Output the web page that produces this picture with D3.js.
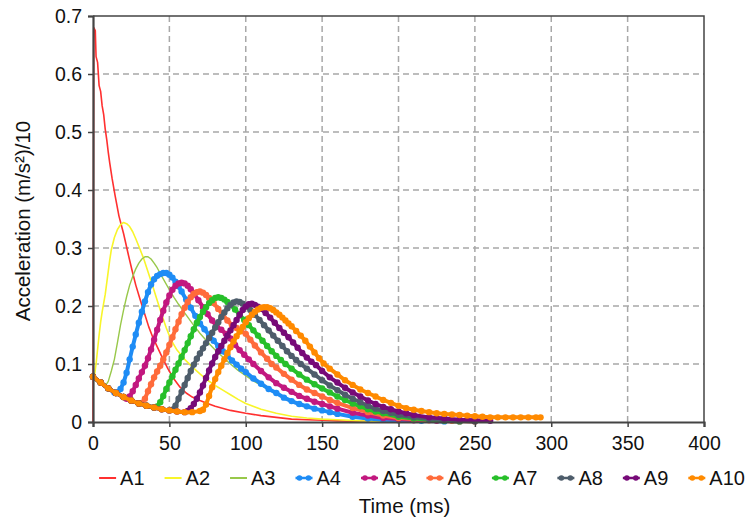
<!DOCTYPE html>
<html>
<head>
<meta charset="utf-8">
<script src="https://cdn.jsdelivr.net/npm/d3@7"></script>
<style>
  body { margin: 0; background: #fff; }
  text { font-family: "Liberation Sans", Arial, sans-serif; fill: #111; }
</style>
</head>
<body>
<div id="wrapper"></div>
<script>
// 1. Data (time in ms, acceleration (m/s²)/10)

const seriesNames = ["A1", "A2", "A3", "A4", "A5", "A6", "A7", "A8", "A9", "A10"];
const seriesColors = ["#ff3030", "#f8f52a", "#98c84a", "#1e8cf5", "#c2187f", "#ff6b3b",
  "#27bf2a", "#4e5d6b", "#770a78", "#ff8a00"];
const hasMarkers = [false, false, false, true, true, true, true, true, true, true];

const a1 = [[0,0],[0.5,.68],[1.5,.675],[2,.63],[3,.62],[4,.58],[5,.57],[6,.545],[7,.53],[8,.505],
  [9,.487],[10,.465],[11,.446],[12.5,.42],[14.5,.39],[17,.355],[20,.325],[23,.29],[25.5,.262],
  [28,.236],[31,.21],[34,.185],[36.5,.164],[39,.147],[42,.13],[45,.113],[49,.092],[53,.074],
  [57,.06],[61,.05],[65,.043],[70,.037],[75,.032],[80,.027],[90,.02],[100,.015],[110,.011],
  [120,.008],[130,.005],[140,.004],[150,.003],[160,.002],[180,.001],[200,0]];

const a2 = [[0,.075],[1,.08],[2,.1],[3,.125],[4,.15],[5,.172],[6,.19],[7,.205],[8,.22],[9,.24],
  [10,.26],[11,.28],[12,.297],[14,.318],[16,.332],[18,.34],[20,.344],[22,.342],[24,.337],
  [26,.328],[28,.316],[30,.303],[33,.283],[36,.259],[39,.235],[42,.21],[45,.185],[48,.162],
  [51,.142],[55,.124],[60,.108],[65,.095],[70,.083],[75,.072],[80,.063],[85,.055],[90,.047],
  [95,.039],[100,.032],[110,.022],[120,.015],[130,.01],[140,.007],[150,.005],[160,.004],
  [175,.002],[190,.001],[200,0]];

const a3 = [[0,.075],[3,.068],[6,.063],[8,.062],[10,.07],[12,.088],[14,.108],[16,.137],[18,.167],
  [20,.193],[22,.216],[24,.236],[26,.251],[28,.264],[30,.274],[32,.281],[34,.285],[36,.285],
  [38,.281],[40,.274],[42,.266],[44,.256],[47,.242],[50,.228],[53,.215],[56,.203],[60,.188],
  [65,.17],[70,.153],[75,.138],[80,.124],[85,.112],[90,.1],[95,.089],[100,.08],[105,.071],
  [110,.063],[115,.056],[120,.049],[125,.043],[130,.037],[140,.027],[150,.019],[160,.013],
  [170,.009],[180,.006],[190,.004],[200,.003],[210,.002],[220,0]];

const a4 = [[0,.078],[5,.068],[10,.058],[14,.051],[16,.051],[18,.057],[20,.068],[22,.085],
  [24,.108],[26,.13],[28,.151],[30,.171],[32,.19],[34,.208],[36,.224],[38,.237],[40,.246],
  [42,.252],[44,.255],[46,.257],[48,.257],[50,.254],[52,.249],[54,.242],[56,.234],[58,.225],
  [61,.211],[64,.197],[67,.183],[70,.17],[73,.16],[76,.15],[79,.14],[82,.131],[85,.122],
  [88,.114],[91,.106],[94,.099],[97,.092],[100,.086],[105,.075],[110,.066],[115,.057],
  [120,.05],[125,.042],[130,.036],[135,.031],[140,.027],[145,.023],[150,.02],[155,.017],
  [160,.014],[170,.009],[180,.006],[190,.004],[200,.003],[215,.002],[230,.001]];

const a5 = [[0,.078],[5,.068],[10,.058],[15,.05],[20,.043],[22,.04],[24,.044],[26,.053],
  [28,.064],[30,.075],[32,.086],[34,.097],[36,.11],[38,.125],[40,.142],[42,.159],[44,.176],
  [46,.192],[48,.206],[50,.218],[52,.228],[54,.235],[56,.239],[58,.24],[60,.239],[62,.235],
  [64,.229],[66,.222],[69,.21],[72,.198],[75,.186],[78,.175],[81,.165],[84,.159],[87,.152],
  [90,.144],[93,.133],[96,.124],[99,.116],[102,.108],[105,.1],[110,.088],[115,.077],
  [120,.067],[125,.059],[130,.052],[135,.045],[140,.04],[145,.035],[150,.031],[155,.027],
  [160,.023],[170,.016],[180,.011],[190,.007],[200,.005],[210,.003],[225,.002],[240,.001]];

const a6 = [[0,.078],[5,.068],[10,.058],[15,.05],[20,.043],[25,.037],[30,.032],[32,.033],
  [34,.04],[36,.053],[38,.065],[40,.077],[42,.087],[44,.097],[46,.108],[48,.12],[50,.133],
  [52,.146],[54,.16],[56,.173],[58,.186],[60,.197],[62,.207],[64,.215],[66,.221],[68,.224],
  [70,.225],[72,.223],[74,.219],[76,.214],[79,.205],[82,.195],[85,.185],[88,.175],[91,.167],
  [94,.162],[97,.157],[100,.152],[103,.142],[106,.132],[110,.12],[114,.109],[117,.1],
  [120,.094],[125,.083],[130,.073],[135,.064],[140,.056],[145,.05],[150,.044],[155,.038],
  [160,.033],[170,.024],[180,.017],[190,.011],[200,.007],[210,.005],[220,.003],[235,.002],
  [250,.001]];

const a7 = [[0,.078],[5,.068],[10,.058],[15,.05],[20,.043],[25,.037],[30,.032],[35,.028],
  [40,.025],[42,.027],[44,.034],[46,.045],[48,.057],[50,.068],[52,.079],[54,.09],[56,.101],
  [58,.112],[60,.124],[62,.136],[64,.148],[66,.16],[68,.171],[70,.181],[72,.19],[74,.198],
  [76,.205],[78,.21],[80,.214],[82,.215],[84,.214],[86,.211],[88,.207],[90,.202],[93,.194],
  [96,.185],[99,.176],[102,.167],[105,.158],[108,.149],[111,.14],[114,.131],[117,.122],
  [120,.114],[123,.107],[126,.1],[130,.092],[135,.082],[140,.073],[145,.065],[150,.058],
  [155,.051],[160,.044],[165,.038],[170,.032],[175,.027],[180,.022],[185,.018],[190,.015],
  [200,.009],[210,.006],[220,.004],[230,.002],[240,.001]];

const a8 = [[0,.078],[5,.068],[10,.058],[15,.05],[20,.043],[25,.037],[30,.032],[35,.028],
  [40,.025],[45,.022],[50,.02],[52,.021],[54,.028],[56,.04],[58,.052],[60,.064],[62,.076],
  [64,.088],[66,.099],[68,.109],[70,.118],[72,.127],[74,.136],[76,.145],[78,.154],[80,.163],
  [82,.172],[84,.181],[86,.189],[88,.196],[90,.202],[92,.206],[94,.208],[96,.207],[98,.204],
  [100,.2],[103,.193],[106,.185],[109,.176],[112,.167],[115,.158],[118,.149],[121,.14],
  [124,.131],[127,.122],[130,.114],[133,.107],[136,.1],[140,.092],[145,.082],[150,.072],
  [155,.063],[160,.055],[165,.047],[170,.04],[175,.034],[180,.028],[185,.023],[190,.019],
  [195,.016],[200,.012],[210,.008],[220,.005],[230,.003],[240,.002],[250,.001]];

const a9 = [[0,.078],[5,.068],[10,.058],[15,.05],[20,.043],[25,.037],[30,.032],[35,.028],
  [40,.025],[45,.022],[50,.02],[55,.018],[60,.017],[62,.019],[64,.024],[66,.031],[68,.04],
  [70,.051],[72,.063],[74,.076],[76,.089],[78,.101],[80,.112],[82,.122],[84,.131],[86,.14],
  [88,.149],[90,.158],[92,.167],[94,.176],[96,.185],[98,.193],[100,.199],[102,.203],
  [104,.204],[106,.202],[108,.199],[110,.195],[113,.188],[116,.18],[119,.171],[122,.162],
  [125,.154],[128,.146],[131,.137],[134,.128],[137,.119],[140,.111],[143,.104],[146,.098],
  [150,.088],[155,.077],[160,.068],[165,.059],[170,.051],[175,.044],[180,.037],[185,.031],
  [190,.026],[195,.022],[200,.018],[205,.015],[210,.012],[220,.008],[230,.006],[240,.004],
  [250,.003],[260,.002]];

const a10 = [[0,.078],[5,.068],[10,.058],[15,.05],[20,.043],[25,.037],[30,.032],[35,.028],
  [40,.025],[45,.022],[50,.02],[55,.018],[60,.017],[65,.017],[70,.019],[72,.021],[74,.03],
  [76,.045],[78,.06],[80,.074],[82,.086],[84,.097],[86,.108],[88,.119],[90,.129],[92,.139],
  [94,.148],[96,.156],[98,.164],[100,.172],[102,.179],[104,.185],[106,.19],[108,.194],
  [110,.197],[112,.198],[114,.198],[116,.196],[118,.193],[120,.189],[122,.185],[124,.18],
  [126,.175],[128,.17],[130,.165],[133,.157],[136,.149],[139,.14],[142,.13],[145,.12],
  [148,.11],[151,.101],[155,.092],[160,.082],[165,.072],[170,.064],[175,.056],[180,.05],
  [185,.044],[190,.038],[195,.033],[200,.028],[205,.024],[210,.021],[215,.019],[220,.017],
  [225,.015],[230,.014],[235,.013],[240,.012],[245,.011],[250,.01],[255,.009],[260,.008],
  [265,.008],[270,.008],[275,.008],[280,.008],[285,.008],[290,.008],[293,.008]];

const seriesData = [a1, a2, a3, a4, a5, a6, a7, a8, a9, a10];

const xTicks = [0, 50, 100, 150, 200, 250, 300, 350, 400];
const yTicks = [0, 0.1, 0.2, 0.3, 0.4, 0.5, 0.6, 0.7];
const yTickLabels = ["0", "0.1", "0.2", "0.3", "0.4", "0.5", "0.6", "0.7"];

// 2. Dimensions

const dimensions = {
  width: 749,
  height: 518,
  margin: { top: 16, right: 45, bottom: 96, left: 93 },
};
dimensions.boundedWidth = dimensions.width - dimensions.margin.left - dimensions.margin.right;
dimensions.boundedHeight = dimensions.height - dimensions.margin.top - dimensions.margin.bottom;

// 3. Canvas

const wrapper = d3.select("#wrapper")
  .append("svg")
    .attr("width", dimensions.width)
    .attr("height", dimensions.height);

const bounds = wrapper.append("g")
  .attr("transform", `translate(${dimensions.margin.left},${dimensions.margin.top})`);

// 4. Scales

const xScale = d3.scaleLinear()
  .domain([0, 400])
  .range([0, dimensions.boundedWidth]);

const yScale = d3.scaleLinear()
  .domain([0, 0.7])
  .range([dimensions.boundedHeight, 0]);

// grid
bounds.append("g")
  .selectAll("line")
  .data(yTicks.slice(1, -1))
  .join("line")
    .attr("x1", 0)
    .attr("x2", dimensions.boundedWidth)
    .attr("y1", d => yScale(d))
    .attr("y2", d => yScale(d))
    .attr("stroke", "#a8a8a8")
    .attr("stroke-width", 1.5)
    .attr("stroke-dasharray", "6,4");

bounds.append("g")
  .selectAll("line")
  .data(xTicks.slice(1, -1))
  .join("line")
    .attr("x1", d => xScale(d))
    .attr("x2", d => xScale(d))
    .attr("y1", 0)
    .attr("y2", dimensions.boundedHeight)
    .attr("stroke", "#a8a8a8")
    .attr("stroke-width", 1.5)
    .attr("stroke-dasharray", "6,4");

// frame (top, right)
bounds.append("path")
  .attr("d", `M0,0H${dimensions.boundedWidth}V${dimensions.boundedHeight}`)
  .attr("fill", "none")
  .attr("stroke", "#444")
  .attr("stroke-width", 1.5);

// 5. Draw data

const lineGenerator = d3.line()
  .x(d => xScale(d[0]))
  .y(d => yScale(d[1]));

seriesData.forEach((data, i) => {
  const g = bounds.append("g");
  g.append("path")
    .attr("d", lineGenerator(data))
    .attr("fill", "none")
    .attr("stroke", seriesColors[i])
    .attr("stroke-width", hasMarkers[i] ? 4 : (i === 2 ? 1.4 : 1.6))
    .attr("stroke-linejoin", "round");
  if (hasMarkers[i]) {
    g.selectAll("circle")
      .data(data)
      .join("circle")
        .attr("cx", d => xScale(d[0]))
        .attr("cy", d => yScale(d[1]))
        .attr("r", 3.2)
        .attr("fill", seriesColors[i]);
  }
});

// 6. Axes

const xAxisGenerator = d3.axisBottom(xScale)
  .tickValues(xTicks)
  .tickSize(5)
  .tickPadding(5)
  .tickFormat(d3.format("d"));

const xAxis = bounds.append("g")
  .attr("transform", `translate(0,${dimensions.boundedHeight})`)
  .call(xAxisGenerator);

const yAxisGenerator = d3.axisLeft(yScale)
  .tickValues(yTicks)
  .tickSize(5)
  .tickPadding(6)
  .tickFormat((d, i) => yTickLabels[i]);

const yAxis = bounds.append("g")
  .call(yAxisGenerator);

[xAxis, yAxis].forEach(axis => {
  axis.select(".domain")
    .attr("stroke", "#444")
    .attr("stroke-width", 2.2);
  axis.selectAll(".tick line")
    .attr("stroke", "#444")
    .attr("stroke-width", 1.5);
  axis.selectAll(".tick text")
    .attr("font-family", "Liberation Sans, Arial, sans-serif")
    .attr("font-size", 19.5)
    .attr("fill", "#111");
});

xAxis.selectAll(".tick text").attr("dy", "0.9em");

// axis labels
wrapper.append("text")
  .attr("x", dimensions.margin.left + dimensions.boundedWidth / 2 + 6)
  .attr("y", 513)
  .attr("text-anchor", "middle")
  .attr("font-size", 20.5)
  .text("Time (ms)");

wrapper.append("text")
  .attr("transform", `translate(30,${dimensions.margin.top + dimensions.boundedHeight / 2 + 2}) rotate(-90)`)
  .attr("text-anchor", "middle")
  .attr("font-size", 20.5)
  .text("Acceleration (m/s²)/10");

// 7. Legend

const legend = wrapper.append("g");

const symbolWidth = 17;
const symbolGap = 4;
const itemGap = 20;
let legendX = 0;
seriesNames.forEach((name, i) => {
  const item = legend.append("g");
  item.append("line")
    .attr("x1", 0)
    .attr("x2", symbolWidth)
    .attr("y1", 0)
    .attr("y2", 0)
    .attr("stroke", seriesColors[i])
    .attr("stroke-width", hasMarkers[i] ? 2.5 : 2);
  if (hasMarkers[i]) {
    item.selectAll("circle")
      .data([4, 13])
      .join("circle")
        .attr("cx", d => d)
        .attr("cy", 0)
        .attr("r", 2.8)
        .attr("fill", seriesColors[i]);
  }
  const label = item.append("text")
    .attr("x", symbolWidth + symbolGap)
    .attr("dy", "0.36em")
    .attr("font-size", 20)
    .text(name);
  const w = symbolWidth + symbolGap + label.node().getComputedTextLength();
  item.attr("transform", `translate(${legendX},0)`);
  legendX += w + itemGap;
});
const legendWidth = legendX - itemGap;
legend.attr("transform", `translate(${422 - legendWidth / 2},478)`);
</script>
</body>
</html>
